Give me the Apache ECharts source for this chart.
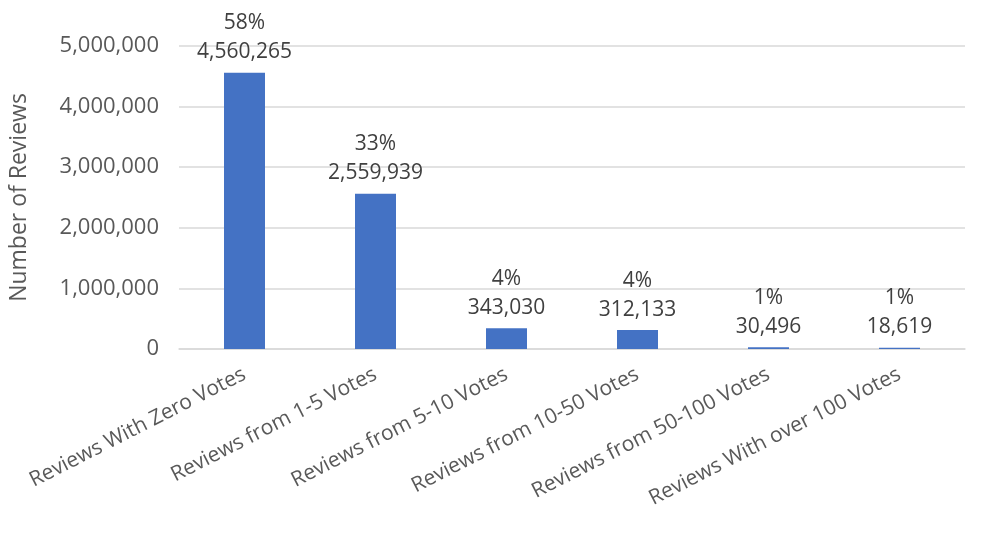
<!DOCTYPE html>
<html>
<head>
<meta charset="utf-8">
<script src="https://cdn.jsdelivr.net/npm/echarts@6/dist/echarts.min.js"></script>
<style>
  html, body { margin: 0; padding: 0; background: #fff; }
  #main { width: 982px; height: 533px; }
</style>
</head>
<body>
<div id="main"></div>
<script>
var categories = ['Reviews With Zero Votes', 'Reviews from 1-5 Votes', 'Reviews from 5-10 Votes',
  'Reviews from 10-50 Votes', 'Reviews from 50-100 Votes', 'Reviews With over 100 Votes'];
var reviewCounts = [4560265, 2559939, 343030, 312133, 30496, 18619];
var sharePercent = [58, 33, 4, 4, 1, 1];
var yTicks = [0, 1000000, 2000000, 3000000, 4000000, 5000000];

var font = 'Open Sans';
var chart = echarts.init(document.getElementById('main'));

function fmt(v) {
  return v.toString().replace(/\B(?=(\d{3})+(?!\d))/g, ',');
}

var option = {
  animation: false,
  grid: { left: 175, right: 17, top: 46, bottom: 184 },
  xAxis: {
    type: 'category',
    data: categories,
    axisLine: { lineStyle: { color: '#d9d9d9', width: 1.5 } },
    axisTick: { show: false },
    axisLabel: {
      interval: 0,
      rotate: 27,
      margin: 24,
      fontFamily: font,
      fontSize: 21,
      color: '#595959'
    }
  },
  yAxis: {
    type: 'value',
    min: yTicks[0],
    max: yTicks[yTicks.length - 1],
    interval: 1000000,
    name: 'Number of Reviews',
    nameLocation: 'middle',
    nameGap: 148,
    nameTextStyle: { fontFamily: font, fontSize: 23, color: '#595959' },
    axisLine: { show: false },
    axisTick: { show: false },
    splitLine: { lineStyle: { color: '#d9d9d9', width: 1.5 } },
    axisLabel: {
      margin: 20,
      fontFamily: font,
      fontSize: 22,
      color: '#595959',
      formatter: function (v) { return fmt(v); }
    }
  },
  series: [{
    type: 'bar',
    data: reviewCounts,
    barWidth: 41,
    itemStyle: { color: '#4472C4' },
    label: {
      show: true,
      position: 'top',
      distance: 6,
      fontFamily: font,
      fontSize: 21,
      lineHeight: 29,
      color: '#404040',
      formatter: function (p) {
        return sharePercent[p.dataIndex] + '%\n' + fmt(p.value);
      }
    }
  }]
};

chart.setOption(option);
</script>
</body>
</html>
